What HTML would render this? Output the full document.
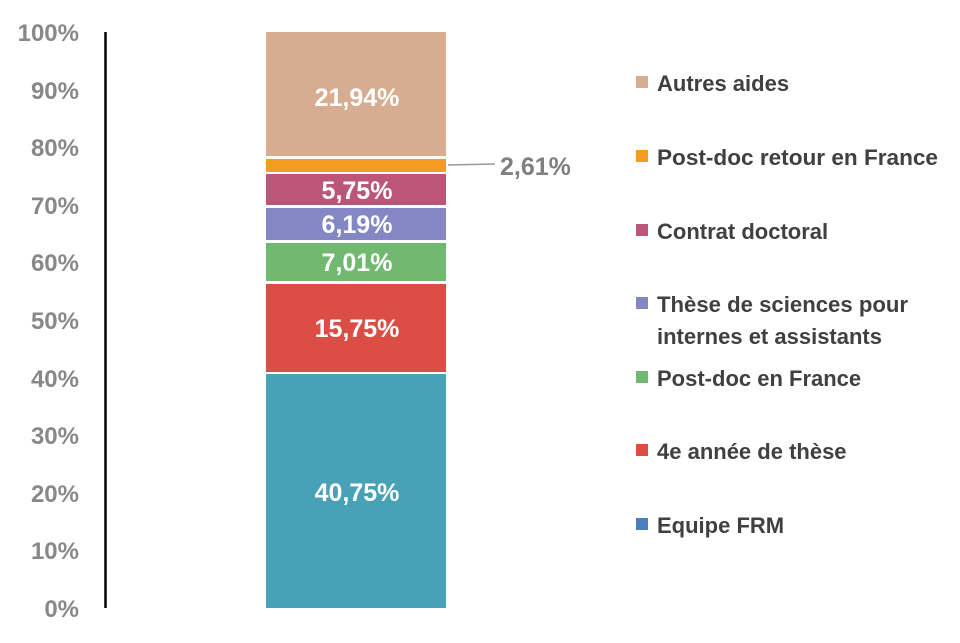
<!DOCTYPE html>
<html><head><meta charset="utf-8"><style>
body{margin:0;background:#fff;}
svg text{font-family:"Liberation Sans",sans-serif;font-weight:bold;}
</style></head><body>
<svg width="960" height="638" xmlns="http://www.w3.org/2000/svg">
<g font-size="24" fill="#888" text-anchor="end">
<text x="79" y="41">100%</text><text x="79" y="99">90%</text><text x="79" y="156">80%</text>
<text x="79" y="214">70%</text><text x="79" y="271">60%</text><text x="79" y="329">50%</text>
<text x="79" y="387">40%</text><text x="79" y="444">30%</text><text x="79" y="502">20%</text>
<text x="79" y="559">10%</text><text x="79" y="617">0%</text>
</g>
<line x1="105.5" y1="32" x2="105.5" y2="608" stroke="#000" stroke-width="2.5"/>
<rect x="266" y="374" width="180" height="234" fill="#47a1b7"/>
<rect x="266" y="284" width="180" height="88" fill="#db4e45"/>
<rect x="266" y="243" width="180" height="38" fill="#71b971"/>
<rect x="266" y="208" width="180" height="32" fill="#8388c4"/>
<rect x="266" y="174" width="180" height="31" fill="#bb5679"/>
<rect x="266" y="159" width="180" height="13" fill="#f39c22"/>
<rect x="266" y="32" width="180" height="124" fill="#d6ad90"/>
<line x1="448" y1="165" x2="495" y2="164" stroke="#999" stroke-width="1.5"/>
<g font-size="25" fill="#fff" text-anchor="middle">
<text x="357" y="106">21,94%</text><text x="357" y="199">5,75%</text>
<text x="357" y="233">6,19%</text><text x="357" y="271">7,01%</text>
<text x="357" y="337">15,75%</text><text x="357" y="501">40,75%</text>
</g>
<text x="500" y="175" font-size="25" fill="#7f7f7f">2,61%</text>
<g font-size="22" fill="#404040">
<rect x="636" y="76" width="12" height="12" fill="#d6ad90"/><text x="657" y="91">Autres aides</text>
<rect x="636" y="150" width="12" height="12" fill="#f39c22"/><text x="657" y="165" textLength="281" lengthAdjust="spacingAndGlyphs">Post-doc retour en France</text>
<rect x="636" y="224" width="12" height="12" fill="#bb5679"/><text x="657" y="239">Contrat doctoral</text>
<rect x="636" y="297" width="12" height="12" fill="#8388c4"/><text x="657" y="312" textLength="251" lengthAdjust="spacingAndGlyphs">Thèse de sciences pour</text><text x="657" y="344">internes et assistants</text>
<rect x="636" y="371" width="12" height="12" fill="#71b971"/><text x="657" y="386">Post-doc en France</text>
<rect x="636" y="444" width="12" height="12" fill="#db4e45"/><text x="657" y="459">4e année de thèse</text>
<rect x="636" y="518" width="12" height="12" fill="#4a7fc0"/><text x="657" y="533">Equipe FRM</text>
</g>
</svg>
</body></html>
